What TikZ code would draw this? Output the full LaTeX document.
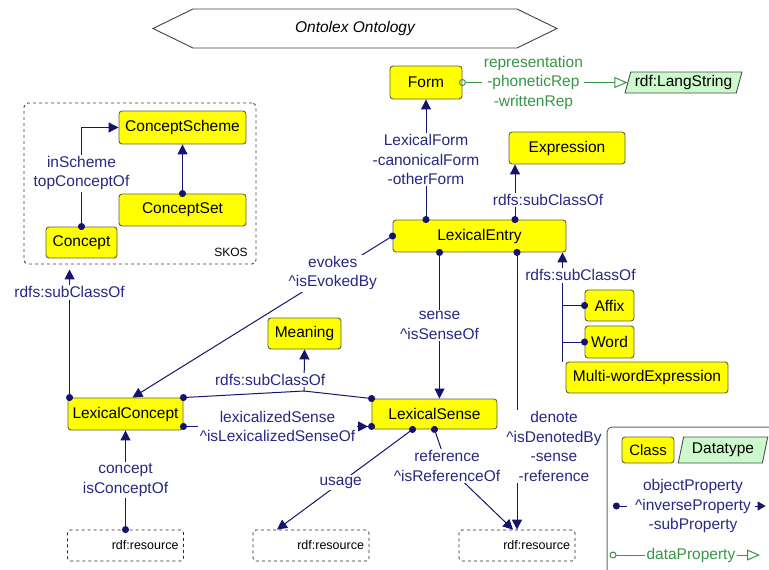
\documentclass[tikz,border=0pt]{standalone}
\usepackage{fontspec}
\setmainfont{Liberation Sans}
\usetikzlibrary{arrows.meta,shapes.geometric,shapes.symbols}

\definecolor{clsfill}{RGB}{255,255,0}
\definecolor{clsline}{RGB}{100,95,60}
\definecolor{edgeblue}{RGB}{20,20,110}
\definecolor{lblblue}{RGB}{40,40,130}
\definecolor{dgreen}{RGB}{55,150,70}
\definecolor{dtfill}{RGB}{204,250,204}

\begin{document}
\begin{tikzpicture}[x=1pt, y=-1pt,
	cls/.style 2 args={draw=clsline, fill=clsfill, line width=0.9pt, rounded corners=3pt, inner sep=0pt,
		minimum width=#1pt, minimum height=#2pt, font=\fontsize{15.5}{18}\selectfont},
	dtype/.style={draw=black!70, fill=dtfill, line width=0.9pt, trapezium, trapezium stretches=true,
		trapezium left angle=70, trapezium right angle=110, inner sep=0pt, font=\fontsize{15.5}{18}\selectfont},
	res/.style={draw=black!85, dashed, line width=0.8pt, rounded corners=3pt, text width=106pt, align=right,
		inner xsep=5pt, minimum height=31pt, font=\fontsize{12.5}{14}\selectfont},
	lbl/.style={fill=white, text=lblblue, align=center, inner sep=1.5pt, font=\fontsize{15.5}{19.5}\selectfont},
	dlbl/.style={lbl, text=dgreen},
	obj/.style={draw=edgeblue, line width=1pt, {Circle[length=7pt]}-{Triangle[length=10pt,width=10pt]}, shorten <=-3.5pt},
	objinv/.style={draw=edgeblue, line width=1pt, {Circle[length=7pt]}-{Triangle[length=10pt,width=10pt] Circle[length=7pt]},
		shorten <=-3.5pt, shorten >=-3.5pt},
	sub/.style={draw=edgeblue, line width=1pt, -{Triangle[length=10pt,width=10pt]}},
	dotin/.style={draw=edgeblue, line width=1pt, -{Circle[length=7pt]}, shorten >=-3.5pt},
	dotout/.style={draw=edgeblue, line width=1pt, {Circle[length=7pt]}-, shorten <=-3.5pt},
	dprop/.style={draw=dgreen, line width=1pt, {Circle[open,length=7pt]}-{Triangle[open,length=13pt,width=11pt]}, shorten <=-3.5pt},
	]

	\useasboundingbox (0,0) rectangle (769,570);

	\node[signal, signal to=west and east, signal pointer angle=52, draw=black!75, line width=0.9pt,
		minimum width=404pt, minimum height=39pt, font=\itshape\fontsize{15.5}{18}\selectfont] (title) at (355,28.5) {Ontolex Ontology};

	\node[draw=black!75, dashed, line width=0.9pt, rounded corners=4pt, minimum width=232pt, minimum height=161pt] (skos) at (140,183.5) {};

	\node[font=\fontsize{12}{14}\selectfont] (skoslbl) at (231,252) {SKOS};

	\node[cls={127}{33}] (cscheme) at (182.5,127.5) {ConceptScheme};
	\node[cls={127}{32}] (cset) at (182.5,210) {ConceptSet};
	\node[cls={71}{31}] (concept) at (81.5,242.5) {Concept};

	\node[cls={72}{33}] (form) at (426,82.5) {Form};
	\node[dtype, minimum width=117pt, minimum height=21pt] (lang) at (683.5,82.5) {rdf:LangString};
	\node[cls={116}{32}] (expr) at (567,148) {Expression};
	\node[cls={173}{32}] (le) at (479.5,236) {LexicalEntry};
	\node[cls={49}{31}] (affix) at (609.5,305.5) {Affix};
	\node[cls={49}{32}] (word) at (609.5,342) {Word};
	\node[cls={162}{31}] (mwe) at (647,377.5) {Multi-wordExpression};
	\node[cls={73}{31}] (meaning) at (304.5,333.5) {Meaning};
	\node[cls={125}{30}] (ls) at (434.5,414) {LexicalSense};
	\node[cls={115}{32}] (lc) at (125.5,414) {LexicalConcept};

	\node[res] (res1) at (125.5,545.5) {rdf:resource};
	\node[res] (res2) at (311,545.5) {rdf:resource};
	\node[res] (res3) at (517,545.5) {rdf:resource};

	\draw[obj] (concept.north) |- node[lbl, pos=0.27] {inScheme\\topConceptOf} (cscheme.west);

	\draw[obj] (cset.north) -- (cscheme.south);

	\coordinate (lc-nw) at ([xshift=2pt]lc.north west);
	\draw[obj, shorten >=5pt] (lc-nw) -- node[lbl, pos=0.79] {rdfs:subClassOf} (lc-nw |- skos.south);

	\draw[obj] (le.north -| form) -- node[lbl] {LexicalForm\\-canonicalForm\\-otherForm} (form.south);

	\coordinate (le-n2) at ([xshift=35.5pt]le.north);
	\draw[obj] (le-n2) -- node[lbl, pos=0.36, xshift=33pt] {rdfs:subClassOf} (le-n2 |- expr.south);

	\draw[obj] (le.west) -- node[lbl, pos=0.23] {evokes\\\textasciicircum isEvokedBy} ([xshift=7pt]lc.north);

	\coordinate (le-s1) at ([xshift=-40pt]le.south);
	\draw[obj] (le-s1) -- node[lbl] {sense\\\textasciicircum isSenseOf} (le-s1 |- ls.north);

	\draw[obj] (le.south -| res3) -- node[lbl, pos=0.7, xshift=37pt] {denote\\\textasciicircum isDenotedBy\\-sense\\-reference} (res3.north);

	\coordinate (le-se) at ([xshift=-4pt]le.south east);
	\draw[sub] (le-se |- mwe.north) -- node[lbl, pos=0.79, xshift=18pt] {rdfs:subClassOf} (le-se);
	\draw[dotin] (le-se |- affix.west) -- (affix.west);
	\draw[dotin] (le-se |- word.west) -- (word.west);

	\coordinate (mj) at (304,391);
	\draw[obj] (lc.north east) -- (mj) -- node[lbl, pos=0.26, xshift=-34pt] {rdfs:subClassOf} (meaning.south);
	\draw[dotout] (ls.north west) -- (mj);

	\coordinate (lc-se) at ([yshift=4pt]lc.south east);
	\draw[objinv] (lc-se) -- node[lbl] {lexicalizedSense\\\textasciicircum isLexicalizedSenseOf} (lc-se -| ls.west);

	\draw[obj] (res1.north) -- node[lbl] {concept\\isConceptOf} (lc.south);

	\draw[obj] ([xshift=-22pt]ls.south) -- node[lbl, pos=0.53] {usage} ([xshift=-34pt]res2.north);

	\draw[obj] (ls.south) -- (447,466) node[lbl] {reference\\\textasciicircum isReferenceOf} -- ([xshift=-4pt]res3.north);

	\draw[dprop] (form.east) -- node[dlbl, pos=0.43] {representation\\-phoneticRep\\-writtenRep} (lang.left side);

	\draw[draw=black!60, line width=1pt, rounded corners=5pt] (770,427) -- (607,427) -- (607,571);

	\node[cls={52}{26}, font=\fontsize{15}{18}\selectfont] (lgclass) at (648,450) {Class};
	\node[dtype, minimum width=90pt, minimum height=26pt, trapezium left angle=73, trapezium right angle=107] (lgdtype) at (723,450) {Datatype};

	\node[lbl, fill=none] (lgobj) at (693,506) {objectProperty\\\textasciicircum inverseProperty\\-subProperty};
	\draw[dotout] ([xshift=-17pt]lgobj.west) -- ([xshift=-6pt]lgobj.west);
	\draw[sub, -{Triangle[length=8pt,width=9pt]}] ([xshift=2pt]lgobj.east) -- ([xshift=13pt]lgobj.east);

	\draw[dprop] (613,555) -- node[dlbl, pos=0.53] (lgdata) {dataProperty} (760,555);

\end{tikzpicture}
\end{document}
